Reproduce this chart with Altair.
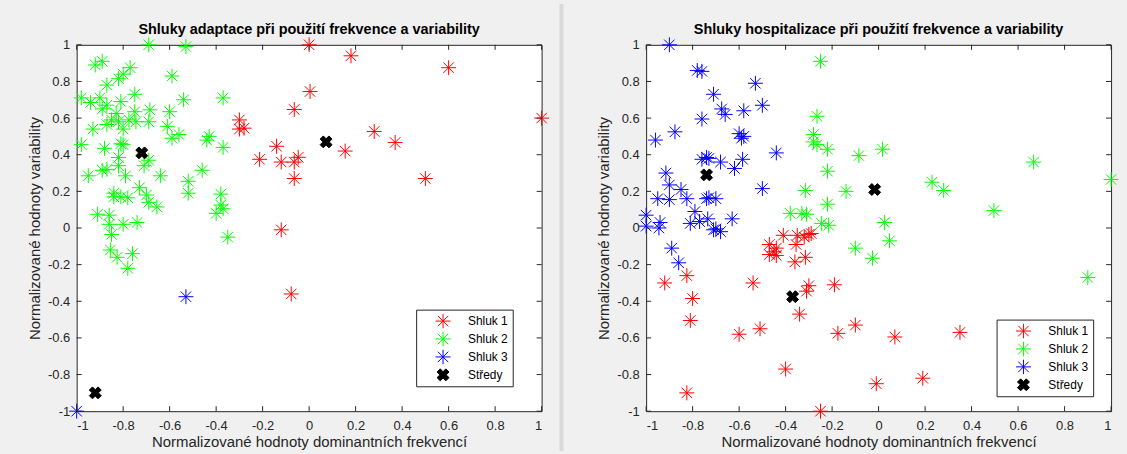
import altair as alt
import pandas as pd

TICKS = [-1, -0.8, -0.6, -0.4, -0.2, 0, 0.2, 0.4, 0.6, 0.8, 1]
GROUPS = ["Shluk 1", "Shluk 2", "Shluk 3", "Středy"]
COLORS = ["#ff0000", "#00ff00", "#0000ff", "#000000"]
AST = "M-1,0L1,0M0,-1L0,1M-0.7,-0.7L0.7,0.7M-0.7,0.7L0.7,-0.7"
XSHAPE = ("M-0.375,-0.8L0,-0.424L0.375,-0.8L0.8,-0.375L0.424,0L0.8,0.375"
          "L0.375,0.8L0,0.424L-0.375,0.8L-0.8,0.375L-0.424,0L-0.8,-0.375Z")

TITLE_L = "Shluky adaptace při použití frekvence a variability"
TITLE_R = "Shluky hospitalizace při použití frekvence a variability"
XTITLE = "Normalizované hodnoty dominantních frekvencí"
YTITLE = "Normalizované hodnoty variability"

# ---------------- left panel (adaptace) ----------------
L1_x = [0.0, 0.18, 0.6, 1.0, -0.064, 0.004, -0.30, -0.30, -0.28, -0.213, -0.14,
        -0.12, -0.064, -0.047, -0.064, -0.12, 0.28, 0.37, 0.155, 0.5, -0.077]
L1_y = [1.0, 0.94, 0.875, 0.6, 0.647, 0.745, 0.59, 0.54, 0.545, 0.375, 0.446,
        0.36, 0.36, 0.386, 0.27, -0.01, 0.527, 0.467, 0.42, 0.27, -0.36]

L2_x = [-0.69, -0.53, -0.92, -0.89, -0.77, -0.80, -0.82, -0.59, -0.87, -0.98,
        -0.94, -0.90, -0.75, -0.54, -0.37, -0.89, -0.87, -0.81, -0.83, -0.75,
        -0.685, -0.60, -0.85, -0.87, -0.82, -0.775, -0.745, -0.69, -0.93, -0.80,
        -0.61, -0.56, -0.59, -0.44, -0.43, -0.98, -0.81, -0.80, -0.88, -0.37,
        -0.82, -0.69, -0.71, -0.82, -0.89, -0.87, -0.95, -0.79, -0.64, -0.46,
        -0.52, -0.52, -0.73, -0.84, -0.84, -0.81, -0.78, -0.70, -0.69, -0.655,
        -0.38, -0.38, -0.37, -0.40, -0.91, -0.86, -0.86, -0.80, -0.74, -0.85,
        -0.35, -0.855, -0.826, -0.76, -0.78]
L2_y = [1.0, 0.99, 0.89, 0.91, 0.875, 0.84, 0.815, 0.83, 0.78, 0.71,
        0.685, 0.71, 0.73, 0.70, 0.71, 0.65, 0.67, 0.69, 0.625, 0.635,
        0.645, 0.635, 0.59, 0.565, 0.58, 0.59, 0.58, 0.58, 0.54, 0.54,
        0.555, 0.51, 0.49, 0.48, 0.50, 0.455, 0.46, 0.455, 0.435, 0.44,
        0.385, 0.37, 0.34, 0.34, 0.315, 0.32, 0.285, 0.285, 0.285, 0.315,
        0.255, 0.19, 0.22, 0.19, 0.17, 0.17, 0.165, 0.18, 0.14, 0.115,
        0.185, 0.125, 0.105, 0.08, 0.075, 0.07, 0.02, 0.02, 0.03, -0.035,
        -0.05, -0.12, -0.16, -0.14, -0.22]

L3_x = [-0.53, -1.0]
L3_y = [-0.375, -1.0]

LC_x = [0.073, -0.72, -0.92]
LC_y = [0.47, 0.41, -0.9]

# ---------------- right panel (hospitalizace) ----------------
R1_x = [-0.41, -0.35, -0.30, -0.29, -0.32, -0.47, -0.44, -0.45, -0.47, -0.44,
        -0.355, -0.36, -0.315, -0.92, -0.825, -0.80, -0.81, -0.54, -0.30, -0.31,
        -0.19, -0.34, -0.60, -0.51, -0.175, -0.10, 0.07, 0.35, -0.40, -0.01,
        0.19, -0.825, -0.25]
R1_y = [-0.04, -0.04, -0.035, -0.03, -0.05, -0.09, -0.11, -0.13, -0.145, -0.15,
        -0.09, -0.185, -0.16, -0.30, -0.26, -0.385, -0.505, -0.30, -0.315, -0.345,
        -0.31, -0.47, -0.58, -0.55, -0.575, -0.53, -0.595, -0.57, -0.77, -0.85,
        -0.82, -0.90, -1.0]

R2_x = [-0.25, -0.265, -0.28, -0.28, -0.265, -0.22, -0.085, 0.017, -0.22, -0.315,
        -0.14, -0.22, -0.38, -0.33, -0.31, -0.245, -0.215, 0.026, -0.10, 0.23,
        0.28, 0.496, 0.667, 1.0, 0.047, -0.026, 0.90]
R2_y = [0.91, 0.61, 0.51, 0.47, 0.455, 0.43, 0.395, 0.43, 0.31, 0.205,
        0.20, 0.13, 0.08, 0.08, 0.075, 0.025, 0.015, 0.03, -0.11, 0.25,
        0.205, 0.095, 0.36, 0.265, -0.07, -0.165, -0.27]

R3_x = [-0.90, -0.78, -0.76, -0.71, -0.53, -0.50, -0.675, -0.66, -0.76, -0.58,
        -0.876, -0.96, -0.60, -0.58, -0.59, -0.44, -0.74, -0.73, -0.76, -0.68,
        -0.585, -0.62, -0.915, -0.90, -0.85, -0.50, -0.95, -0.90, -0.825, -0.74,
        -0.73, -0.70, -0.79, -0.81, -0.77, -0.735, -1.0, -1.0, -0.94, -0.945,
        -0.71, -0.68, -0.70, -0.63, -0.89, -0.86]
R3_y = [1.0, 0.86, 0.855, 0.73, 0.79, 0.67, 0.65, 0.62, 0.595, 0.64,
        0.525, 0.48, 0.515, 0.50, 0.49, 0.41, 0.385, 0.38, 0.375, 0.36,
        0.375, 0.325, 0.30, 0.235, 0.21, 0.215, 0.16, 0.155, 0.16, 0.16,
        0.165, 0.16, 0.09, 0.025, 0.035, 0.05, 0.07, 0.01, 0.03, 0.0,
        -0.01, -0.02, -0.005, 0.05, -0.11, -0.19]

RC_x = [-0.74, -0.017, -0.37]
RC_y = [0.29, 0.21, -0.375]

FONT = "Liberation Sans"
W = 467
H = 368


def make_df(series):
    rows = []
    for g, xs, ys in series:
        for a, b in zip(xs, ys):
            rows.append({"x": a, "y": b, "group": g})
    return pd.DataFrame(rows)


def panel(title, df, lx, ly):
    sx = alt.Scale(domain=[-1, 1], nice=False, zero=False)
    sy = alt.Scale(domain=[-1, 1], nice=False, zero=False)
    label_expr = "'' + datum.value"
    ax_x = alt.Axis(values=TICKS, labelExpr=label_expr, ticks=False, domain=False, grid=False,
                    title=XTITLE, labelPadding=8, titlePadding=2)
    ax_y = alt.Axis(values=TICKS, labelExpr=label_expr, ticks=False, domain=False, grid=False,
                    title=YTITLE, labelPadding=7, titlePadding=5)
    leg = alt.Legend(orient="none", legendX=lx, legendY=ly, title=None,
                     strokeColor="#262626", fillColor="#ffffff", padding=4,
                     labelFont=FONT, labelFontSize=12, labelColor="#000000",
                     symbolSize=225, symbolStrokeWidth=1, labelOffset=17,
                     symbolOffset=15, rowPadding=3, clipHeight=15, cornerRadius=0)
    pts = alt.Chart(df).mark_point(filled=True, size=225, strokeWidth=1, opacity=1).encode(
        x=alt.X("x:Q", scale=sx, axis=ax_x),
        y=alt.Y("y:Q", scale=sy, axis=ax_y),
        fill=alt.Fill("group:N", scale=alt.Scale(domain=GROUPS, range=COLORS), legend=leg),
        stroke=alt.Stroke("group:N", scale=alt.Scale(domain=GROUPS, range=COLORS), legend=leg),
        shape=alt.Shape("group:N", scale=alt.Scale(domain=GROUPS, range=[AST, AST, AST, XSHAPE]),
                        legend=leg),
    )
    tdf = pd.DataFrame({"t": TICKS})
    base = alt.Chart(tdf).mark_rule(color="#262626", strokeWidth=1)
    tx = alt.X("t:Q", scale=sx, axis=ax_x)
    ty = alt.Y("t:Q", scale=sy, axis=ax_y)
    bottom = base.encode(x=tx, y=alt.value(H), y2=alt.value(H - 5))
    top = base.encode(x=tx, y=alt.value(0), y2=alt.value(5))
    left = base.encode(y=ty, x=alt.value(0), x2=alt.value(5))
    right = base.encode(y=ty, x=alt.value(W), x2=alt.value(W - 5))
    return alt.layer(pts, bottom, top, left, right).properties(
        width=W, height=H,
        title=alt.TitleParams(title, font=FONT, fontSize=14.5, fontWeight="bold",
                              color="#000000", offset=-2, anchor="middle", frame="group"),
    )


df_l = make_df([("Shluk 1", L1_x, L1_y), ("Shluk 2", L2_x, L2_y),
                ("Shluk 3", L3_x, L3_y), ("Středy", LC_x, LC_y)])
df_r = make_df([("Shluk 1", R1_x, R1_y), ("Shluk 2", R2_x, R2_y),
                ("Shluk 3", R3_x, R3_y), ("Středy", RC_x, RC_y)])

left_chart = panel(TITLE_L, df_l, 341, 266)
right_chart = panel(TITLE_R, df_r, 352, 276)

# window edge between the two figures
separator = alt.Chart(pd.DataFrame({"t": [0]})).mark_rule(
    color="#d9d9d9", strokeWidth=4
).encode(
    x=alt.value(1), y=alt.value(-41), y2=alt.value(H + 40)
).properties(
    width=28, height=H,
    view=alt.ViewBackground(fill="transparent", stroke="transparent"),
)

chart = alt.hconcat(left_chart, separator, right_chart, spacing=7).resolve_legend(
    fill="independent", stroke="independent", shape="independent"
).resolve_scale(
    fill="independent", stroke="independent", shape="independent"
).properties(
    padding={"left": 27, "top": 0, "right": 6, "bottom": 0},
    background="#f0f0f0",
).configure_view(
    fill="#ffffff", stroke="#262626", strokeWidth=1
).configure_axis(
    labelFont=FONT, labelFontSize=13, labelColor="#262626",
    titleFont=FONT, titleFontSize=15, titleFontWeight="normal", titleColor="#262626",
)

chart.save("out.html", embed_options={"renderer": "svg", "actions": False})
